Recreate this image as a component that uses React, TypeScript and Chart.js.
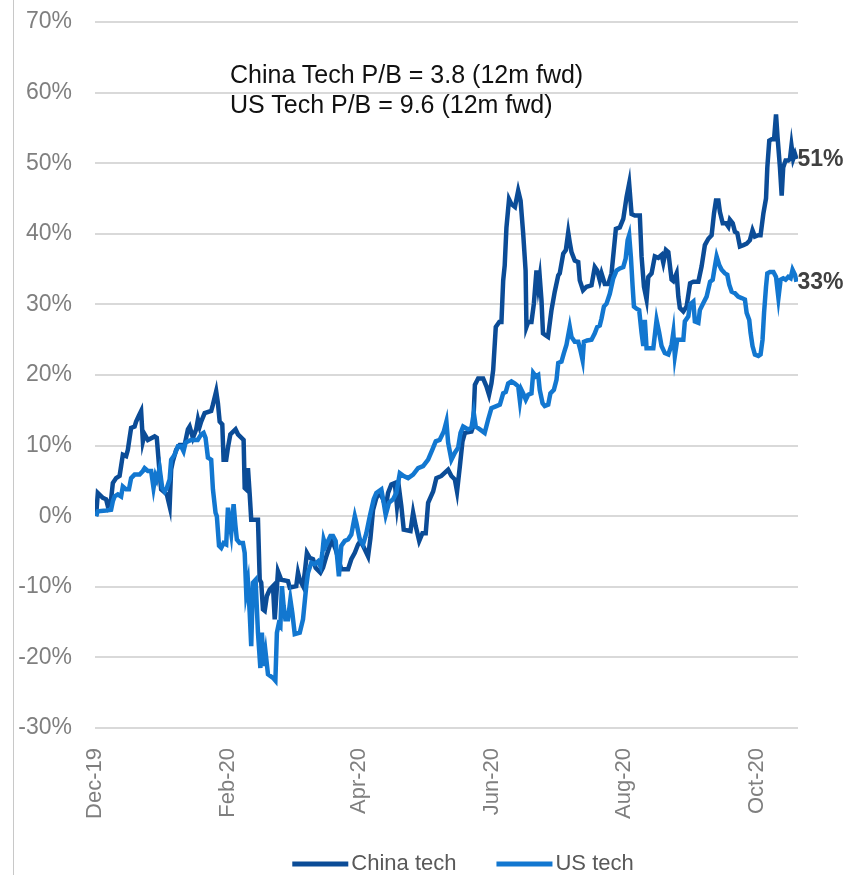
import React, { useEffect, useRef } from "react";
import { Chart, registerables } from "chart.js";

Chart.register(...registerables);

// ---- data (x = days from start of Dec-2019, y = % return) ----
const tickDays = [0.7, 62, 122, 183, 244, 305];
const tickLabels = ["Dec-19", "Feb-20", "Apr-20", "Jun-20", "Aug-20", "Oct-20"];
const yMin = -30;
const yMax = 70;
const yStep = 10;

const seriesNames = ["China tech", "US tech"];
const seriesColors = ["#0b4c97", "#1277d0"];
const annotationLines = ["China Tech P/B = 3.8 (12m fwd)", "US Tech P/B = 9.6 (12m fwd)"];

const chinaDays = [
  1.2, 2.0, 4.3, 5.8, 6.6, 8.1, 8.9, 10.4, 12.0, 12.7,
  13.5, 15.0, 15.8, 16.6, 17.3, 18.9, 19.6, 20.8, 21.9, 22.7,
  23.5, 25.0, 28.1, 29.1, 30.4, 31.1, 33.7, 35.0, 35.7, 36.5,
  38.0, 39.6, 41.9, 42.6, 43.4, 44.2, 45.7, 47.2, 48.0, 48.8,
  49.5, 51.1, 54.1, 54.9, 56.4, 57.2, 58.0, 59.2, 59.8, 61.0,
  61.8, 62.9, 65.3, 66.4, 69.0, 69.5, 70.2, 71.0, 71.8, 72.5,
  75.6, 76.4, 77.1, 77.9, 78.7, 79.7, 81.0, 82.5, 83.3, 84.8,
  86.3, 89.4, 90.2, 93.2, 94.0, 94.8, 96.3, 97.1, 98.1, 99.4,
  100.9, 102.1, 104.3, 105.5, 107.0, 108.6, 109.8, 111.3, 112.4, 113.9,
  117.0, 118.5, 120.1, 121.6, 122.7, 123.9, 126.2, 127.3, 128.5, 130.0,
  131.6, 133.1, 134.3, 135.4, 136.9, 138.5, 139.5, 140.5, 141.5, 142.6,
  145.7, 146.9, 148.1, 149.7, 151.2, 152.7, 153.8, 156.1, 157.6, 159.9,
  163.0, 164.5, 166.1, 167.1, 168.4, 169.6, 170.7, 173.7, 174.5, 175.3,
  176.8, 179.1, 180.6, 181.8, 182.9, 183.7, 184.9, 186.5, 187.5, 188.3,
  189.0, 189.8, 191.0, 192.1, 193.7, 195.2, 196.3, 197.5, 198.6, 199.0,
  199.8, 201.3, 202.4, 203.6, 204.4, 205.1, 205.9, 206.6, 207.9, 208.9,
  210.5, 212.0, 213.6, 214.3, 215.9, 217.1, 218.2, 218.9, 219.7, 221.2,
  222.8, 223.5, 225.0, 226.6, 228.9, 230.4, 231.5, 232.7, 233.5, 235.0,
  236.6, 238.1, 240.1, 241.9, 243.5, 245.0, 246.2, 247.3, 248.8, 251.1,
  251.9, 253.0, 254.2, 255.0, 256.5, 258.0, 259.6, 261.1, 261.9, 263.1,
  264.2, 265.7, 266.5, 268.0, 268.8, 269.5, 271.1, 272.6, 274.2, 275.7,
  278.0, 279.5, 281.0, 282.6, 284.1, 285.2, 286.1, 287.2, 287.9, 289.2,
  290.7, 291.8, 292.5, 293.8, 294.8, 295.9, 297.1, 298.7, 300.2, 301.7,
  302.9, 304.0, 305.6, 306.6, 307.9, 309.1, 309.7, 310.6, 311.7, 312.8,
  313.7, 314.4, 315.5, 316.3, 317.0, 318.1, 319.3, 320.1, 320.8, 321.6,
  322.4, 323.1,
];
const chinaValues = [
  0, 3.3, 2.6, 2.4, 1.4, 2.4, 4.7, 5.4, 5.7, 7.1,
  8.7, 8.5, 9.4, 11.1, 12.5, 12.7, 13.4, 14.2, 14.9, 10.6,
  11.6, 10.8, 11.3, 11.1, 6.1, 3.8, 3.1, 1.4, 6.6, 7.8,
  9.4, 10.1, 10.1, 11.1, 12.3, 12.7, 11.1, 12.3, 13.7, 12.7,
  13.4, 14.6, 14.9, 15.8, 17.7, 16.0, 13.4, 13.0, 8.0, 8.0,
  9.7, 11.6, 12.3, 11.6, 10.8, 4.0, 3.8, 6.8, 3.1, -0.5,
  -0.5, -9.0, -9.4, -13.2, -13.4, -11.3, -10.4, -9.9, -14.6, -7.8,
  -9.0, -9.2, -10.1, -9.9, -8.0, -9.0, -9.9, -8.0, -5.2, -5.9,
  -6.1, -7.3, -8.0, -7.3, -5.7, -4.2, -3.5, -4.7, -5.9, -7.5,
  -7.5, -6.1, -5.2, -4.0, -3.5, -4.2, -5.7, -3.1, 0.9, 2.6,
  3.3, 2.4, 1.2, 3.3, 4.5, 4.7, 1.4, 3.8, 1.4, -1.9,
  -2.1, 0.5, -1.4, -3.5, -2.4, -2.4, 1.9, 3.5, 5.4, 5.7,
  6.6, 5.7, 5.2, 3.5, 7.1, 10.6, 11.8, 12.0, 12.7, 18.6,
  19.5, 19.5, 18.4, 17.2, 18.8, 20.7, 26.8, 27.5, 27.5, 33.4,
  35.5, 40.9, 44.9, 44.2, 43.8, 46.1, 44.7, 40.0, 34.8, 26.8,
  27.5, 27.5, 30.1, 34.8, 32.5, 33.9, 30.6, 25.9, 25.6, 25.4,
  29.2, 31.8, 34.1, 34.4, 37.2, 37.7, 40.2, 38.8, 37.4, 36.2,
  36.0, 33.4, 32.0, 32.5, 32.7, 35.3, 34.8, 33.4, 34.4, 32.9,
  32.9, 34.4, 40.7, 40.9, 42.1, 45.2, 47.1, 42.8, 42.6, 42.6,
  36.8, 32.5, 30.7, 33.9, 34.4, 36.8, 36.6, 37.0, 35.9, 37.7,
  37.4, 33.5, 33.3, 34.4, 31.1, 29.5, 29.0, 29.7, 33.0, 33.2,
  33.2, 35.4, 38.4, 39.3, 39.8, 42.9, 44.7, 44.7, 43.1, 41.5,
  41.5, 41.0, 42.0, 41.5, 40.3, 40.1, 38.2, 38.4, 38.6, 39.1,
  40.5, 39.6, 39.8, 39.8, 42.9, 45.0, 49.4, 53.2, 53.4, 53.4,
  56.9, 53.7, 49.4, 45.4, 49.4, 50.4, 50.4, 50.6, 52.5, 50.6,
  51.3, 50.6,
];

const usDays = [
  1.2, 2.0, 5.8, 8.1, 8.9, 9.7, 11.2, 12.7, 13.5, 15.0,
  16.3, 17.3, 18.9, 21.2, 22.7, 23.5, 25.0, 26.5, 27.6, 28.5,
  29.1, 30.4, 31.6, 32.7, 33.7, 35.0, 35.7, 37.3, 38.8, 40.3,
  41.4, 42.3, 43.4, 44.9, 47.9, 49.5, 50.6, 51.5, 52.6, 54.1,
  54.9, 56.1, 56.7, 57.7, 58.7, 59.8, 61.0, 61.8, 62.6, 63.3,
  64.4, 65.2, 65.9, 67.2, 68.7, 69.5, 70.2, 71.0, 71.8, 72.5,
  73.3, 74.5, 75.6, 76.7, 77.4, 78.2, 79.1, 80.2, 82.5, 83.6,
  84.3, 85.1, 85.9, 86.6, 87.4, 88.2, 89.4, 90.5, 91.4, 92.5,
  94.8, 96.3, 97.8, 98.6, 100.1, 101.7, 103.2, 104.3, 105.2, 105.8,
  106.7, 107.8, 108.9, 110.1, 111.3, 112.8, 113.9, 115.5, 117.0, 118.5,
  120.1, 120.8, 122.4, 123.9, 125.4, 127.0, 128.8, 130.0, 132.3, 133.4,
  134.3, 135.8, 137.7, 139.2, 140.8, 142.6, 144.6, 146.9, 149.2, 151.5,
  153.8, 155.7, 157.3, 159.1, 161.0, 162.2, 163.0, 164.5, 166.1, 167.6,
  168.7, 169.9, 172.2, 173.7, 174.8, 175.7, 177.6, 179.8, 181.4, 182.9,
  185.2, 186.8, 188.3, 189.5, 190.6, 192.1, 193.7, 195.2, 196.0, 196.7,
  197.5, 198.7, 199.8, 201.3, 202.1, 203.3, 204.4, 205.1, 206.4, 207.4,
  209.0, 210.0, 211.6, 212.8, 213.6, 215.1, 216.2, 217.4, 218.9, 219.7,
  221.2, 222.8, 223.8, 224.8, 225.4, 226.9, 228.9, 230.4, 231.5, 232.7,
  233.5, 234.6, 235.8, 237.3, 238.9, 240.4, 241.9, 243.5, 244.6, 245.5,
  246.2, 247.0, 247.8, 248.4, 249.6, 250.8, 251.9, 252.7, 253.4, 254.2,
  255.7, 257.3, 258.8, 260.0, 261.1, 262.6, 264.2, 265.7, 266.5, 267.2,
  268.3, 269.5, 271.1, 271.8, 273.4, 274.2, 275.7, 276.4, 278.0, 278.7,
  280.3, 281.8, 283.4, 284.6, 285.6, 286.4, 287.6, 288.7, 290.2, 291.3,
  292.2, 293.3, 294.8, 296.3, 297.9, 299.4, 300.2, 301.4, 302.0, 302.9,
  304.0, 305.6, 306.6, 307.5, 308.2, 309.1, 309.7, 310.9, 312.5, 313.7,
  314.8, 315.8, 317.0, 318.1, 319.3, 320.4, 321.3, 322.4, 323.1,
];
const usValues = [
  0, 0.7, 0.8, 0.9, 2.1, 2.8, 3.1, 2.8, 4.2, 3.8,
  3.8, 5.4, 5.9, 5.9, 6.4, 6.8, 6.4, 6.4, 4.0, 5.7,
  5.2, 6.8, 4.0, 3.5, 4.0, 5.2, 8.0, 8.7, 9.9, 9.9,
  9.2, 10.4, 10.6, 10.8, 10.8, 11.6, 11.8, 11.1, 8.3, 8.0,
  3.8, 0.5, 0, -4.2, -4.5, -3.8, -4.0, 1.2, -0.9, -2.4,
  1.7, -1.2, -3.3, -3.8, -3.8, -5.2, -10.8, -9.4, -13.7, -18.4,
  -9.4, -9.0, -16.5, -21.5, -16.5, -21.2, -19.3, -22.4, -22.9, -23.3,
  -16.5, -15.3, -15.6, -9.9, -12.7, -14.6, -14.6, -11.8, -13.7, -16.7,
  -16.5, -14.6, -9.9, -8.0, -6.6, -6.8, -6.4, -7.1, -5.2, -3.3,
  -4.2, -3.5, -2.8, -2.8, -3.5, -8.5, -4.2, -3.5, -3.3, -2.6,
  0, -0.9, -3.3, -4.0, -2.4, 0, 2.4, 3.3, 3.8, 1.9,
  0.2, 1.9, 2.4, 3.3, 6.1, 5.7, 5.4, 5.9, 6.8, 7.1,
  8.0, 9.4, 10.6, 10.8, 12.0, 13.4, 10.4, 8.0, 9.0, 9.7,
  11.8, 12.7, 12.3, 12.5, 14.6, 12.7, 12.3, 11.8, 13.7, 15.3,
  15.6, 15.8, 17.4, 17.6, 18.8, 19.1, 18.8, 18.4, 16.3, 17.9,
  17.4, 16.5, 17.2, 17.4, 20.3, 19.8, 20.0, 17.9, 16.0, 15.6,
  15.8, 17.4, 17.9, 19.3, 21.7, 21.9, 23.1, 24.3, 26.8, 25.4,
  24.7, 24.7, 23.5, 22.1, 24.7, 24.9, 25.0, 25.9, 26.8, 27.0,
  28.0, 29.7, 30.1, 31.5, 33.7, 34.8, 35.1, 35.3, 36.5, 39.1,
  39.8, 36.7, 32.5, 29.7, 29.4, 29.2, 26.0, 24.1, 27.8, 23.8,
  23.8, 23.8, 27.8, 26.0, 24.1, 23.1, 22.9, 24.3, 26.0, 22.7,
  25.0, 25.0, 25.0, 27.6, 28.3, 30.0, 30.4, 27.6, 27.4, 29.2,
  30.2, 31.1, 33.2, 33.5, 35.4, 36.8, 35.6, 34.9, 34.4, 34.2,
  32.8, 31.8, 31.6, 31.1, 30.9, 30.7, 28.8, 27.8, 26.0, 24.1,
  22.9, 22.7, 22.9, 25.0, 28.8, 32.5, 34.4, 34.6, 34.6, 33.9,
  30.9, 33.5, 33.7, 33.5, 33.9, 33.7, 34.9, 34.2, 33.2,
];

const FONT = "'Liberation Sans', Arial, Helvetica, sans-serif";

function toPoints(days: number[], values: number[]) {
  const n = Math.min(days.length, values.length);
  const out: { x: number; y: number }[] = [];
  for (let i = 0; i < n; i++) out.push({ x: days[i], y: values[i] });
  return out;
}

const endLabelPlugin = {
  id: "endLabels",
  afterDatasetsDraw(chart: any) {
    const ctx = chart.ctx;
    chart.data.datasets.forEach((ds: any, i: number) => {
      const meta = chart.getDatasetMeta(i);
      const last = meta.data[meta.data.length - 1];
      const v = ds.data[ds.data.length - 1].y;
      if (!last) return;
      ctx.save();
      ctx.font = `bold 23px ${FONT}`;
      ctx.fillStyle = "#404040";
      ctx.textAlign = "left";
      ctx.textBaseline = "middle";
      ctx.fillText(`${Math.round(v)}%`, last.x + 1, last.y + 1);
      ctx.restore();
    });
  },
};

// legend drawn under the plot, centred a little right of the plot centre as in the source
const legendPlugin = {
  id: "bottomLegend",
  afterDraw(chart: any) {
    const ctx = chart.ctx;
    const sampleW = 56;
    const gapText = 3;
    const gapItem = 40;
    const centerX = 463;
    const cy = 864;
    ctx.save();
    ctx.font = `22px ${FONT}`;
    const items = chart.data.datasets.map((ds: any) => ({
      label: ds.label,
      color: ds.borderColor,
      w: ctx.measureText(ds.label).width,
    }));
    const total =
      items.reduce((s: number, it: any) => s + sampleW + gapText + it.w, 0) + gapItem * (items.length - 1);
    let x = centerX - total / 2;
    items.forEach((it: any) => {
      ctx.fillStyle = it.color;
      ctx.fillRect(x, cy - 2.5, sampleW, 5);
      x += sampleW + gapText;
      ctx.fillStyle = "#595959";
      ctx.textAlign = "left";
      ctx.textBaseline = "middle";
      ctx.fillText(it.label, x, cy);
      x += it.w + gapItem;
    });
    ctx.restore();
  },
};

export default function App() {
  const ref = useRef<HTMLCanvasElement>(null);

  useEffect(() => {
    document.body.style.margin = "0";
    document.body.style.overflow = "hidden";
    document.documentElement.style.overflow = "hidden";
    const canvas = ref.current;
    if (!canvas) return;
    const chart = new Chart(canvas, {
      type: "line",
      data: {
        datasets: [
          {
            label: seriesNames[0],
            data: toPoints(chinaDays, chinaValues),
            borderColor: seriesColors[0],
            backgroundColor: seriesColors[0],
            borderWidth: 4.5,
            pointRadius: 0,
            tension: 0,
            order: 2,
          },
          {
            label: seriesNames[1],
            data: toPoints(usDays, usValues),
            borderColor: seriesColors[1],
            backgroundColor: seriesColors[1],
            borderWidth: 4.5,
            pointRadius: 0,
            tension: 0,
            order: 1,
          },
        ],
      },
      options: {
        responsive: false,
        animation: false,
        devicePixelRatio: 1,
        parsing: false,
        normalized: true,
        layout: { autoPadding: false, padding: { left: 0, right: 63, top: 22, bottom: 0 } },
        scales: {
          x: {
            type: "linear",
            min: tickDays[0],
            max: 323.8,
            grid: { display: false },
            border: { display: false },
            afterBuildTicks: (scale: any) => {
              scale.ticks = tickDays.map((value) => ({ value }));
            },
            afterFit: (scale: any) => {
              scale.height = scale.chart.height - 728;
              scale.paddingTop = 0;
              scale.paddingBottom = 0;
              scale.paddingLeft = 0;
              scale.paddingRight = 0;
            },
            ticks: {
              autoSkip: false,
              minRotation: 90,
              maxRotation: 90,
              padding: 12,
              color: "#7f7f7f",
              font: { family: FONT, size: 22 },
              callback: (_v: any, i: number) => tickLabels[i],
            },
          },
          y: {
            min: yMin,
            max: yMax,
            grid: { color: "#d9d9d9", lineWidth: 2, drawTicks: false },
            border: { display: false },
            afterFit: (scale: any) => {
              scale.width = 95;
              scale.paddingTop = 0;
              scale.paddingBottom = 0;
              scale.paddingLeft = 0;
              scale.paddingRight = 0;
            },
            ticks: {
              stepSize: yStep,
              padding: 23,
              color: "#7f7f7f",
              font: { family: FONT, size: 23 },
              callback: (v: any) => `${v}%`,
            },
          },
        },
        plugins: {
          legend: { display: false },
          tooltip: { enabled: false },
        },
      },
      plugins: [endLabelPlugin, legendPlugin],
    } as any);
    return () => chart.destroy();
  }, []);

  return (
    <div style={{ position: "relative", width: 861, height: 875, overflow: "hidden", background: "#ffffff" }}>
      <canvas ref={ref} width={861} height={875} style={{ display: "block", width: 861, height: 875 }} />
      <div style={{ position: "absolute", left: 13, top: 0, width: 1, height: 875, background: "#c8c8c8" }} />
      <div
        style={{
          position: "absolute",
          left: 230,
          top: 59,
          fontFamily: FONT,
          fontSize: 25,
          lineHeight: "30px",
          color: "#111111",
          whiteSpace: "nowrap",
        }}
      >
        {annotationLines.map((t) => (
          <div key={t}>{t}</div>
        ))}
      </div>
    </div>
  );
}
